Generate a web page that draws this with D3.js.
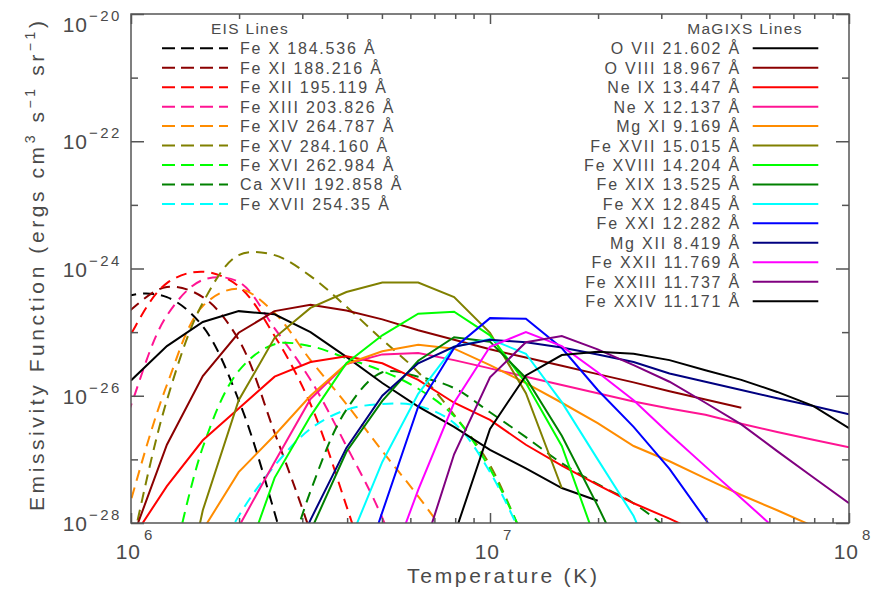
<!DOCTYPE html>
<html><head><meta charset="utf-8">
<script src="https://cdn.jsdelivr.net/npm/d3@7"></script>
<style>
body{margin:0;background:#fff}
text{font-family:"Liberation Sans",Arial,sans-serif;fill:#4a4a4a}
</style>
</head><body>
<svg id="chart" width="871" height="596"></svg>
<script>
// ---------- DATA (log10 T grid; log10 emissivity values) ----------
const logTGrid = [5.9,6.0,6.1,6.2,6.3,6.4,6.5,6.6,6.7,6.8,6.9,7.0,7.1,7.2,7.3,7.4,7.5,7.6,7.7,7.8,7.9,8.0];

const xTickExponents = [6, 7, 8];
const yTickExponents = [-20, -22, -24, -26, -28];

// EIS lines (dashed)
const eisLabels = ["Fe X 184.536 Å","Fe XI 188.216 Å","Fe XII 195.119 Å","Fe XIII 203.826 Å","Fe XIV 264.787 Å","Fe XV 284.160 Å","Fe XVI 262.984 Å","Ca XVII 192.858 Å","Fe XVII 254.35 Å"];
const eisStart  = [5.9, 5.9, 5.9, 5.9, 5.9, 5.9, 6.1, 6.4, 6.2];
const eisFeX    = [-24.75,-24.42,-24.45,-24.91,-26.07,-27.84,-30.0];
const eisFeXI   = [-25.3,-24.65,-24.29,-24.45,-25.12,-26.58,-28.15,-30.0];
const eisFeXII  = [-26.3,-25.03,-24.23,-24.05,-24.28,-25.06,-26.13,-27.73,-29.5];
const eisFeXIII = [-27.9,-26.15,-24.74,-24.18,-24.21,-24.94,-25.75,-26.79,-27.92,-29.5];
const eisFeXIV  = [-29.8,-27.64,-25.83,-24.59,-24.32,-24.70,-25.44,-26.13,-26.87,-27.58,-28.35];
const eisFeXV   = [-31.0,-28.42,-26.07,-24.54,-23.79,-23.79,-24.12,-24.60,-25.12,-25.63,-26.30,-27.09,-28.35];
const eisFeXVI  = [-29.1,-26.81,-25.61,-25.19,-25.22,-25.41,-25.61,-25.89,-26.32,-27.15,-28.3];
const eisCaXVII = [-29.3,-27.5,-26.22,-25.63,-25.70,-25.88,-26.26,-26.65,-27.06,-27.39,-27.69,-28.11];
const eisFeXVII = [-29.0,-27.89,-27.10,-26.52,-26.22,-26.13,-26.16,-26.43,-27.20,-28.35];
const eisValues = [eisFeX,eisFeXI,eisFeXII,eisFeXIII,eisFeXIV,eisFeXV,eisFeXVI,eisCaXVII,eisFeXVII];
const eisColors = ["#000000","#8b0000","#ff0000","#ff1493","#ff8c00","#808000","#00ff00","#008000","#00ffff"];

// MaGIXS lines (solid)
const magLabels = ["O VII 21.602 Å","O VIII 18.967 Å","Ne IX 13.447 Å","Ne X 12.137 Å","Mg XI 9.169 Å","Fe XVII 15.015 Å","Fe XVIII 14.204 Å","Fe XIX 13.525 Å","Fe XX 12.845 Å","Fe XXI 12.282 Å","Mg XII 8.419 Å","Fe XXII 11.769 Å","Fe XXIII 11.737 Å","Fe XXIV 11.171 Å"];
const magStart  = [6.0, 6.0, 6.0, 6.3, 6.2, 6.1, 6.3, 6.4, 6.6, 6.6, 6.4, 6.7, 6.8, 6.9];
const magOVII   = [-25.76,-25.22,-24.84,-24.67,-24.72,-25.00,-25.39,-25.80,-26.17,-26.49,-26.85,-27.14,-27.45,-27.65];
const magOVIII  = [-28.3,-26.77,-25.69,-25.01,-24.67,-24.57,-24.66,-24.80,-24.97,-25.12,-25.27,-25.40,-25.53,-25.66,-25.79,-25.93,-26.06,-26.19];
const magNeIX   = [-28.28,-27.42,-26.70,-26.20,-25.70,-25.47,-25.38,-25.49,-25.75,-26.11,-26.38,-26.77,-27.10,-27.40,-27.69,-27.93,-28.2];
const magNeX    = [-28.06,-27.04,-26.05,-25.50,-25.35,-25.33,-25.44,-25.57,-25.70,-25.83,-25.96,-26.09,-26.20,-26.30,-26.44,-26.57,-26.69,-26.81];
const magMgXI   = [-28.11,-27.2,-26.62,-26.0,-25.5,-25.30,-25.20,-25.26,-25.52,-25.80,-26.11,-26.43,-26.79,-27.03,-27.30,-27.56,-27.80,-28.05];
const magFeXVII = [-30.4,-27.80,-26.07,-25.09,-24.62,-24.37,-24.22,-24.22,-24.45,-25.01,-25.96,-27.45];
const magFeXVIII= [-28.88,-27.29,-26.32,-25.49,-25.05,-24.71,-24.68,-25.05,-25.80,-26.79,-28.36];
const magFeXIX  = [-30.0,-28.13,-26.88,-26.08,-25.45,-25.08,-25.15,-25.72,-26.63,-27.73,-28.9];
const magFeXX   = [-28.41,-27.04,-25.97,-25.23,-25.11,-25.34,-26.10,-27.0,-27.89,-29.2];
const magFeXXI  = [-29.5,-27.83,-26.17,-25.25,-24.78,-24.79,-25.25,-25.91,-26.49,-27.15,-27.94,-28.8];
const magMgXII  = [-29.2,-27.95,-26.82,-26.0,-25.49,-25.23,-25.12,-25.16,-25.24,-25.35,-25.47,-25.65,-25.78,-25.91,-26.04,-26.16,-26.29];
const magFeXXII = [-29.0,-27.48,-26.11,-25.23,-25.0,-25.22,-25.63,-26.07,-26.60,-27.11,-27.61,-28.12];
const magFeXXIII= [-28.68,-26.92,-25.71,-25.16,-25.06,-25.27,-25.52,-25.78,-26.11,-26.45,-26.87,-27.28,-27.69];
const magFeXXIV = [-28.2,-26.52,-25.68,-25.36,-25.31,-25.34,-25.44,-25.60,-25.75,-25.94,-26.16,-26.51];
const magValues = [magOVII,magOVIII,magNeIX,magNeX,magMgXI,magFeXVII,magFeXVIII,magFeXIX,magFeXX,magFeXXI,magMgXII,magFeXXII,magFeXXIII,magFeXXIV];
const magColors = ["#000000","#8b0000","#ff0000","#ff1493","#ff8c00","#808000","#00ff00","#008000","#00ffff","#0000ff","#000080","#ff00ff","#800080","#000000"];

// ---------- CHART ----------
const svg = d3.select("#chart");
const pLeft = 131, pRight = 849, pTop = 14, pBottom = 523;
const x = d3.scaleLog().domain([1e6, 1e8]).range([pLeft, pRight]);
const y = d3.scaleLog().domain([1e-28, 1e-20]).range([pBottom, pTop]);
const axisColor = "#555";

svg.append("defs").append("clipPath").attr("id","plotclip")
  .append("rect").attr("x",pLeft).attr("y",pTop).attr("width",pRight-pLeft).attr("height",pBottom-pTop);

function toPoints(start, vals){
  const i0 = logTGrid.findIndex(t => Math.abs(t - start) < 1e-6);
  return vals.map((v,k) => ({T: Math.pow(10, logTGrid[i0+k]), E: Math.pow(10, v)}));
}

const plot = svg.append("g").attr("clip-path","url(#plotclip)");

const dashedLine = d3.line().x(d=>x(d.T)).y(d=>y(d.E)).curve(d3.curveCatmullRom.alpha(0.5));
const solidLine = d3.line().x(d=>x(d.T)).y(d=>y(d.E));

eisValues.forEach((vals,i) => {
  plot.append("path").attr("d", dashedLine(toPoints(eisStart[i], vals)))
    .attr("fill","none").attr("stroke",eisColors[i]).attr("stroke-width",2)
    .attr("stroke-dasharray","11,7");
});
magValues.forEach((vals,i) => {
  plot.append("path").attr("d", solidLine(toPoints(magStart[i], vals)))
    .attr("fill","none").attr("stroke",magColors[i]).attr("stroke-width",2);
});

// ---------- AXES ----------
const xMajor = xTickExponents.map(e => Math.pow(10,e));
const xMinor = [];
[6,7].forEach(e => { for (let m=2;m<=9;m++) xMinor.push(m*Math.pow(10,e)); });
const yAll = d3.range(-28,-19).map(e => Math.pow(10,e));
const yMajor = yTickExponents.map(e => Math.pow(10,e));
const yMinor = yAll.filter(v => !yMajor.includes(v));

function styleAxis(g){
  g.select(".domain").remove();
  g.selectAll(".tick line").attr("stroke",axisColor).attr("stroke-width",1.5);
  g.selectAll(".tick text").remove();
}
svg.append("g").attr("transform",`translate(0,${pBottom})`).call(d3.axisBottom(x).tickValues(xMajor).tickSize(-10).tickFormat("")).call(styleAxis);
svg.append("g").attr("transform",`translate(0,${pBottom})`).call(d3.axisBottom(x).tickValues(xMinor).tickSize(-5).tickFormat("")).call(styleAxis);
svg.append("g").attr("transform",`translate(0,${pTop})`).call(d3.axisTop(x).tickValues(xMajor).tickSize(-10).tickFormat("")).call(styleAxis);
svg.append("g").attr("transform",`translate(0,${pTop})`).call(d3.axisTop(x).tickValues(xMinor).tickSize(-5).tickFormat("")).call(styleAxis);
svg.append("g").attr("transform",`translate(${pLeft},0)`).call(d3.axisLeft(y).tickValues(yMajor).tickSize(-13).tickFormat("")).call(styleAxis);
svg.append("g").attr("transform",`translate(${pLeft},0)`).call(d3.axisLeft(y).tickValues(yMinor).tickSize(-7).tickFormat("")).call(styleAxis);
svg.append("g").attr("transform",`translate(${pRight},0)`).call(d3.axisRight(y).tickValues(yMajor).tickSize(-13).tickFormat("")).call(styleAxis);
svg.append("g").attr("transform",`translate(${pRight},0)`).call(d3.axisRight(y).tickValues(yMinor).tickSize(-7).tickFormat("")).call(styleAxis);

svg.append("rect").attr("x",pLeft).attr("y",pTop).attr("width",pRight-pLeft).attr("height",pBottom-pTop)
  .attr("fill","none").attr("stroke",axisColor).attr("stroke-width",1.5);

// tick labels
xTickExponents.forEach(e => {
  const cx = x(Math.pow(10,e));
  svg.append("text").attr("x", cx+10).attr("y",559).attr("text-anchor","end")
    .attr("font-size",21).attr("letter-spacing",1).text("10");
  svg.append("text").attr("x", cx+13).attr("y",540).attr("font-size",15).text(String(e));
});
yTickExponents.forEach(e => {
  const yy = y(Math.pow(10,e));
  const base = e === -20 ? 31.5 : yy+8;
  svg.append("text").attr("x",88).attr("y",base).attr("text-anchor","end")
    .attr("font-size",21).attr("letter-spacing",1).text("10");
  svg.append("text").attr("x",89).attr("y",base-11).attr("font-size",15).attr("letter-spacing",2.5)
    .text("\u2212"+String(-e));
});

// axis titles
svg.append("text").attr("x",502).attr("y",583).attr("text-anchor","middle")
  .attr("font-size",21).attr("textLength",190).attr("lengthAdjust","spacing").text("Temperature (K)");
const yt = svg.append("text").attr("transform","translate(44,266) rotate(-90)").attr("text-anchor","middle")
  .attr("font-size",21).attr("textLength",490).attr("lengthAdjust","spacing");
yt.append("tspan").text("Emissivity Function (ergs cm");
yt.append("tspan").attr("font-size",14).attr("dy",-9).text("3");
yt.append("tspan").attr("dy",9).text(" s");
yt.append("tspan").attr("font-size",14).attr("dy",-9).text("\u22121");
yt.append("tspan").attr("dy",9).text(" sr");
yt.append("tspan").attr("font-size",14).attr("dy",-9).text("\u22121");
yt.append("tspan").attr("dy",9).text(")");

// ---------- LEGENDS ----------
const rowY0 = 48.3, rowStep = 19.45;
svg.append("text").attr("x",250).attr("y",34).attr("text-anchor","middle")
  .attr("font-size",15.5).attr("letter-spacing",1.3).text("EIS Lines");
eisLabels.forEach((lab,i) => {
  const yy = rowY0 + i*rowStep;
  svg.append("line").attr("x1",162).attr("x2",228).attr("y1",yy).attr("y2",yy)
    .attr("stroke",eisColors[i]).attr("stroke-width",2).attr("stroke-dasharray","13,6");
  svg.append("text").attr("x",240).attr("y",yy+6).attr("font-size",16).attr("letter-spacing",1.8).text(lab);
});
svg.append("text").attr("x",745).attr("y",34).attr("text-anchor","middle")
  .attr("font-size",15.5).attr("letter-spacing",1.3).text("MaGIXS Lines");
magLabels.forEach((lab,i) => {
  const yy = rowY0 + i*rowStep;
  svg.append("line").attr("x1",752.7).attr("x2",818.3).attr("y1",yy).attr("y2",yy)
    .attr("stroke",magColors[i]).attr("stroke-width",2);
  svg.append("text").attr("x",741).attr("y",yy+6).attr("text-anchor","end").attr("font-size",16).attr("letter-spacing",1.8).text(lab);
});
</script>
</body></html>
